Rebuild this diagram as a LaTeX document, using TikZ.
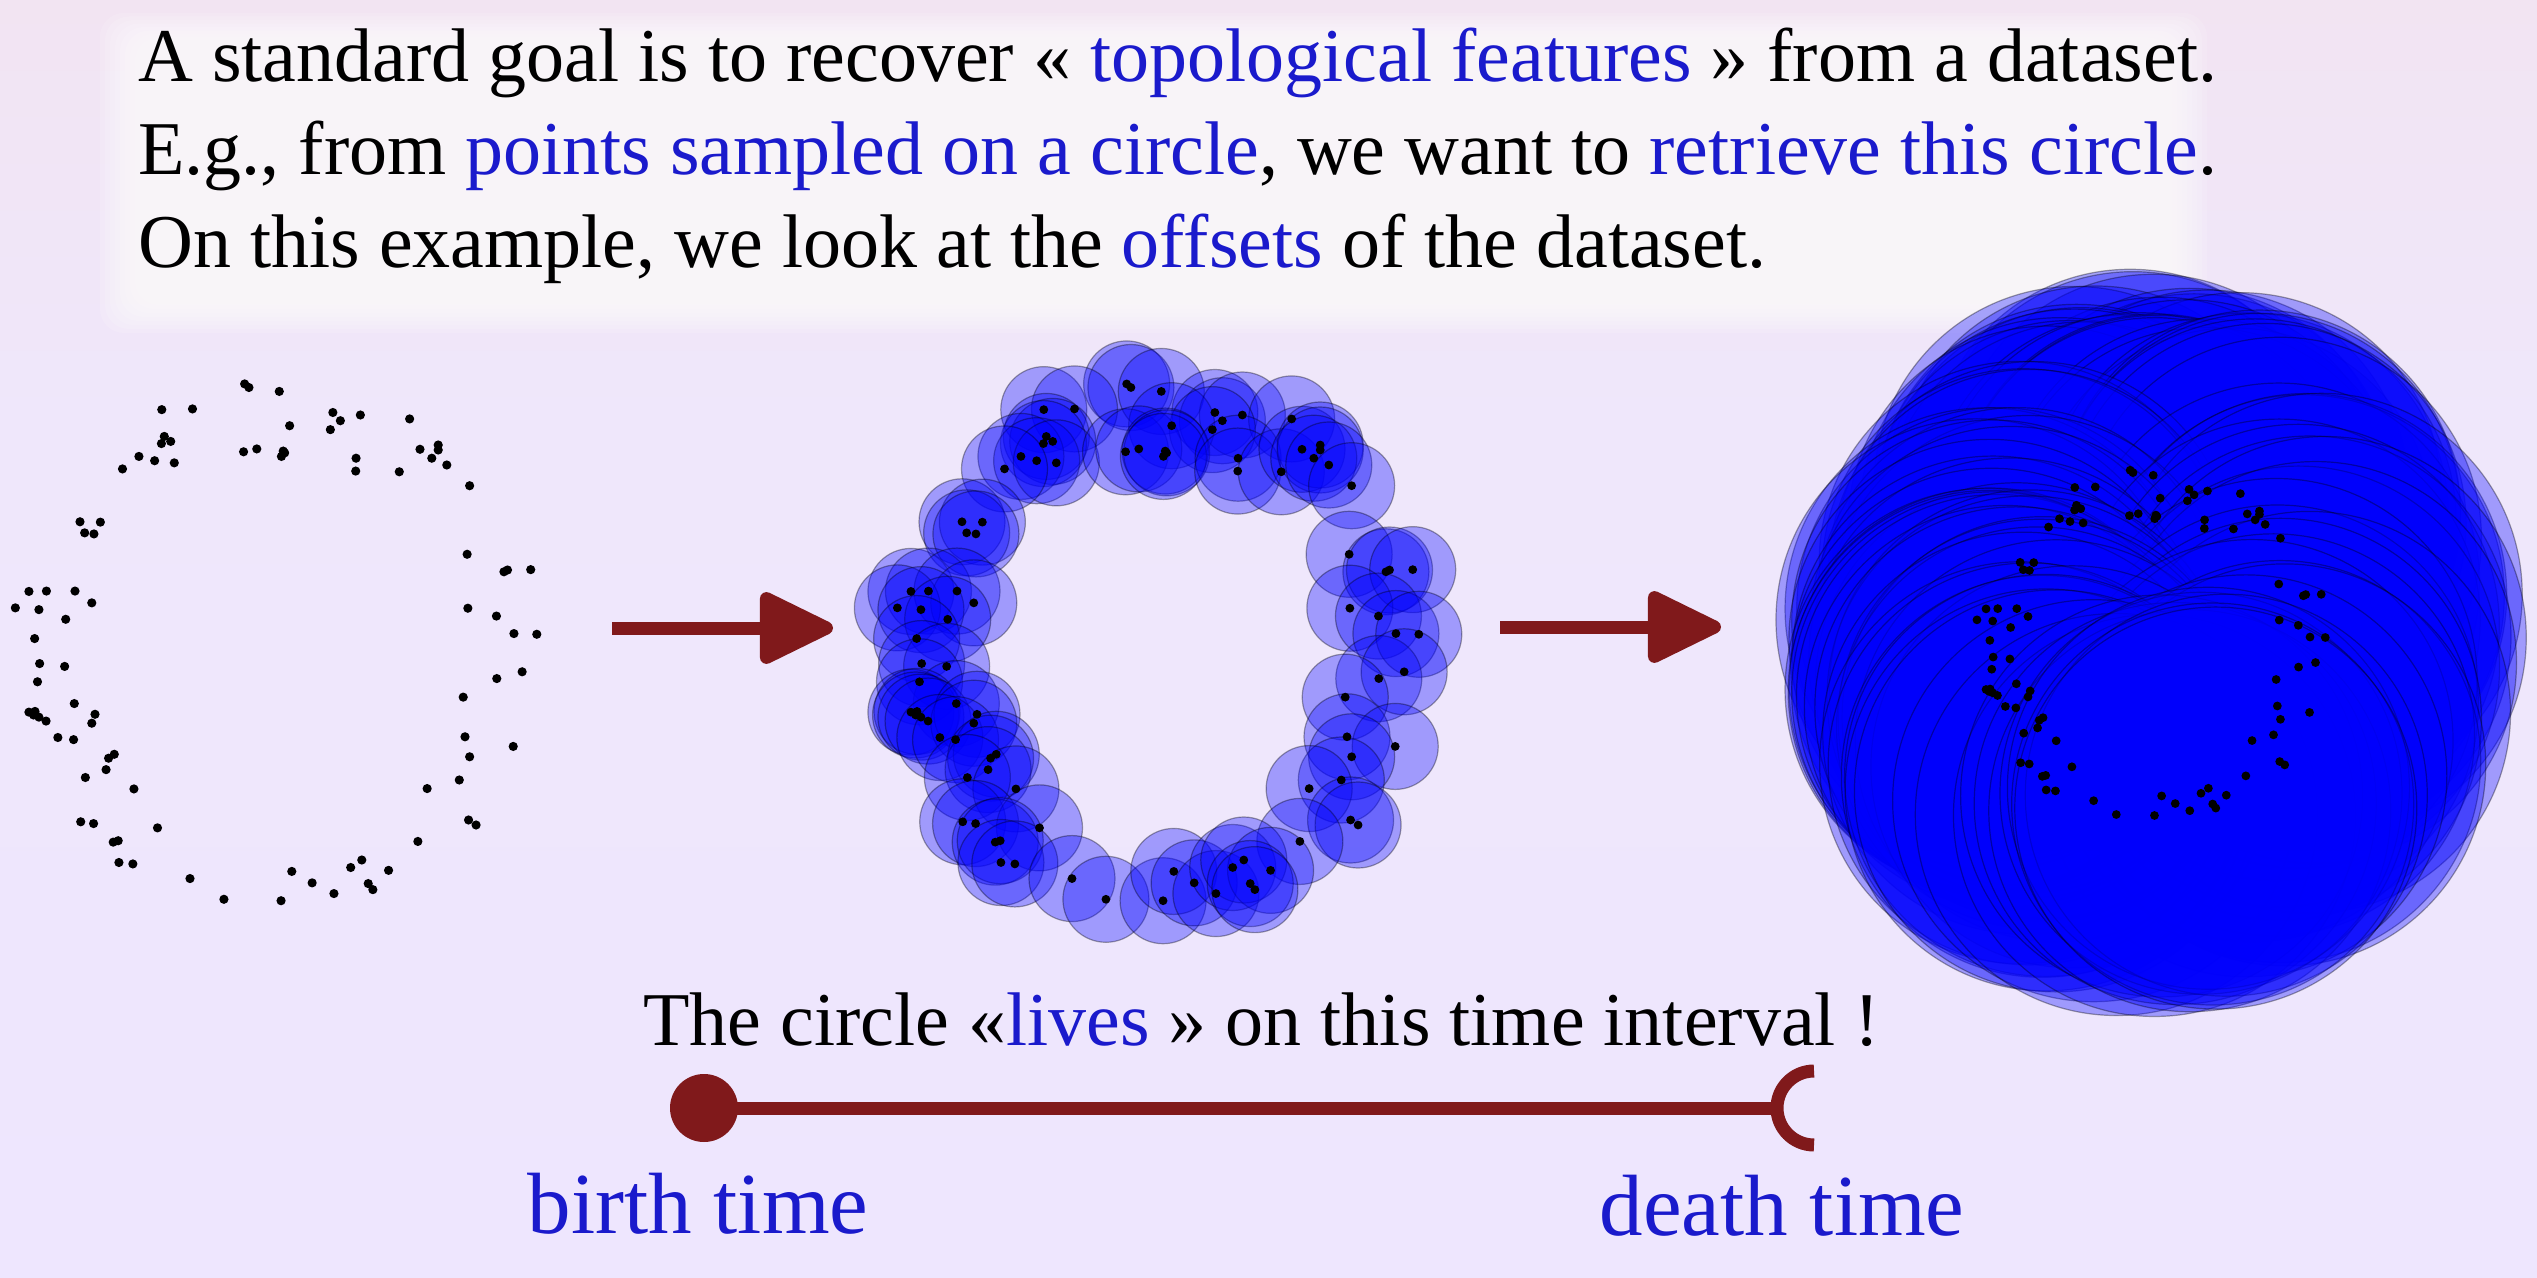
\documentclass[tikz,border=0pt]{standalone}
\usepackage{fontspec}
\setmainfont{Liberation Serif}
\usetikzlibrary{arrows.meta}
\definecolor{bgtop}{RGB}{242,228,242}
\definecolor{bgmid}{RGB}{239,231,251}
\definecolor{bgbot}{RGB}{238,230,254}
\definecolor{tblue}{RGB}{26,26,204}
\definecolor{dred}{RGB}{128,25,27}
\newcommand\hlb[1]{\textcolor{tblue}{#1}}
\def\pts{685/95, 697/105, 782/116, 453/167, 539/165, 932/175, 953/198, 1009/182, 1147/193, 811/212, 925/223, 460/242, 478/256, 452/262, 389/298, 433/310, 488/316, 343/333, 682/285, 719/277, 793/283, 797/288, 788/298, 997/303, 996/339, 1118/341, 1176/278, 1227/266, 1227/280, 1209/303, 1251/322, 1315/380, 224/481, 281/482, 237/512, 263/515, 1308/572, 1411/621, 1421/616, 1486/615, 81/676, 130/675, 210/675, 257/708, 43/722, 109/727, 184/754, 1310/723, 1390/745, 1439/794, 1503/796, 97/808, 111/878, 181/886, 105/929, 1391/920, 1462/901, 1297/972, 208/990, 81/1014, 98/1012, 94/1022, 109/1028, 129/1039, 266/1020, 257/1045, 162/1085, 206/1091, 1302/1083, 1437/1110, 1315/1139, 320/1132, 304/1143, 297/1175, 239/1197, 375/1229, 1286/1204, 1196/1228, 226/1321, 262/1326, 441/1338, 1312/1316, 1333/1330, 1170/1376, 317/1378, 331/1374, 333/1435, 372/1439, 532/1480, 627/1538, 787/1542, 817/1460, 874/1492, 935/1522, 982/1449, 1013/1428, 1088/1457, 1031/1494, 1044/1511}
\tikzset{
  ball/.style={fill=blue, fill opacity=0.33, draw=black, draw opacity=0.35, line width=0.6pt},
  dotpt/.style={fill=black},
  txt/.style={inner sep=0pt, font=\fontsize{38pt}{45pt}\selectfont},
  lbl/.style={inner sep=0pt, text=tblue, font=\fontsize{43.5pt}{52pt}\selectfont},
  flow/.style={draw=dred, line width=6.5pt, -{Triangle[round,length=41pt,width=38pt]}},
  bar/.style={draw=dred, line width=6.5pt},
  haze/.style={fill=white, fill opacity=0.14, rounded corners=12pt},
}
\begin{document}
\begin{tikzpicture}[x=0.5pt,y=-0.5pt]
\useasboundingbox (0,0) rectangle (2537,1278);
\fill[bgbot] (0,0) rectangle (2537,1278);
\shade[top color=bgtop, bottom color=bgmid] (0,0) rectangle (2537,420);
\shade[top color=bgmid, bottom color=bgbot] (0,420) rectangle (2537,1278);
% soft white text panel
\foreach \i in {0,...,7}{
  \path[haze] ({100+5*\i},{13+3.5*\i}) rectangle ({2207-5*\i},{333-4*\i});
}
% text
\node[txt, anchor=base west] (l1) at (138,82) {A standard goal is to recover « \hlb{topological features} » from a dataset.};
\node[txt, anchor=base west] (l2) at (138,175) {E.g., from \hlb{points sampled on a circle}, we want to \hlb{retrieve this circle}.};
\node[txt, anchor=base west] (l3) at (138,268) {On this example, we look at the \hlb{offsets} of the dataset.};
% left: points
\foreach \x/\y in \pts { \fill[dotpt] ({\x/2.8},{\y/2.8+350}) circle[radius=2.3pt]; }
% middle: small balls
\foreach \x/\y in \pts { \path[ball] ({\x/2.8+882},{\y/2.8+350}) circle[radius=21.5pt]; }
\foreach \x/\y in \pts { \fill[dotpt] ({\x/2.8+882},{\y/2.8+350}) circle[radius=2.2pt]; }
% right: big balls
\foreach \x/\y in \pts { \path[ball] ({0.23857*\x+1966.7},{0.23857*\y+447.6}) circle[radius=100.5pt]; }
\foreach \x/\y in \pts { \fill[dotpt] ({0.23857*\x+1966.7},{0.23857*\y+447.6}) circle[radius=2.2pt]; }
% arrows
\coordinate (a1s) at (612,628);
\coordinate (a1e) at (833,628);
\coordinate (a2s) at (1500,627);
\coordinate (a2e) at (1721,627);
\draw[flow] (a1s) -- (a1e);
\draw[flow] (a2s) -- (a2e);
% bottom sentence
\node[txt, anchor=base west] (life) at (643,1045) {The circle «\hlb{lives} » on this time interval !};
% interval bar
\node[circle, fill=dred, inner sep=0pt, minimum size=34pt] (birth) at (704,1108) {};
\coordinate (dc) at (1814,1108);
\coordinate (death) at (1777,1108);
\draw[bar] (birth.center) -- (death);
\draw[bar] (dc) ++(0,18.5pt) arc[start angle=90, end angle=270, radius=18.5pt];
\node[lbl, anchor=base] (bt) at (698,1233) {birth time};
\node[lbl, anchor=base] (dt) at (1782,1235) {death time};
\end{tikzpicture}
\end{document}
